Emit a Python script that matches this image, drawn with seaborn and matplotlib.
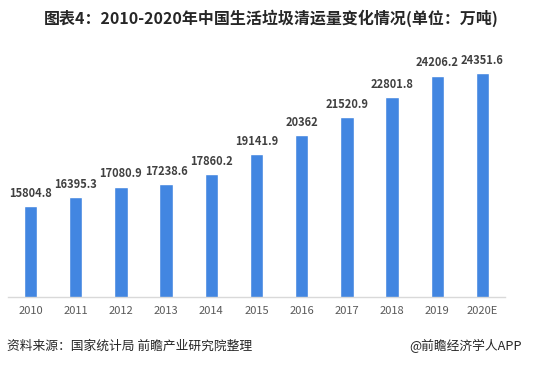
import matplotlib
matplotlib.use("Agg")
import matplotlib.pyplot as plt
import seaborn as sns
import pandas as pd

years = ["2010", "2011", "2012", "2013", "2014", "2015", "2016", "2017", "2018", "2019", "2020E"]
volume = [15804.8, 16395.3, 17080.9, 17238.6, 17860.2, 19141.9, 20362, 21520.9, 22801.8, 24206.2, 24351.6]
labels = ["15804.8", "16395.3", "17080.9", "17238.6", "17860.2", "19141.9", "20362",
          "21520.9", "22801.8", "24206.2", "24351.6"]

title = "图表4：2010-2020年中国生活垃圾清运量变化情况(单位：万吨)"
source = "资料来源：国家统计局 前瞻产业研究院整理"
brand = "@前瞻经济学人APP"

sns.set_theme(style="white")
plt.rcParams['font.family'] = ['Noto Sans CJK SC', 'DejaVu Sans']

df = pd.DataFrame({"year": years, "volume": volume})

fig = plt.figure(figsize=(5.42, 3.67), dpi=100)
ax = fig.add_axes([8 / 542, 1 - 296.7 / 367, (505 - 8) / 542, (296.7 - 47.7) / 367])

sns.barplot(data=df, x="year", y="volume", color="#4286E1", saturation=1,
            width=0.295, ax=ax)

ax.set_ylim(10000, 26000)
ax.set_xlim(-0.5, 10.5)
ax.set_xlabel("")
ax.set_ylabel("")
ax.set_yticks([])
for s in ["top", "left", "right"]:
    ax.spines[s].set_visible(False)
ax.spines["bottom"].set_color("#d9d9d9")
ax.spines["bottom"].set_linewidth(1)
ax.tick_params(axis="x", length=0, pad=7, labelsize=8, labelcolor="#595959")

for i, (v, t) in enumerate(zip(volume, labels)):
    ax.annotate(t, (i, v), xytext=(0, 4.5), textcoords="offset points",
                ha="center", va="bottom", fontsize=8, fontweight="bold", color="#404040")

fig.text(0.5, 1 - 18 / 367, title, ha="center", va="center", fontsize=11.5,
         fontweight="bold", color="#262626")
fig.text(7 / 542, 1 - 346 / 367, source, ha="left", va="center", fontsize=9.2, color="#262626")
fig.text(522 / 542, 1 - 346 / 367, brand, ha="right", va="center", fontsize=9.2, color="#262626")

fig.savefig("out.png", dpi=100)
